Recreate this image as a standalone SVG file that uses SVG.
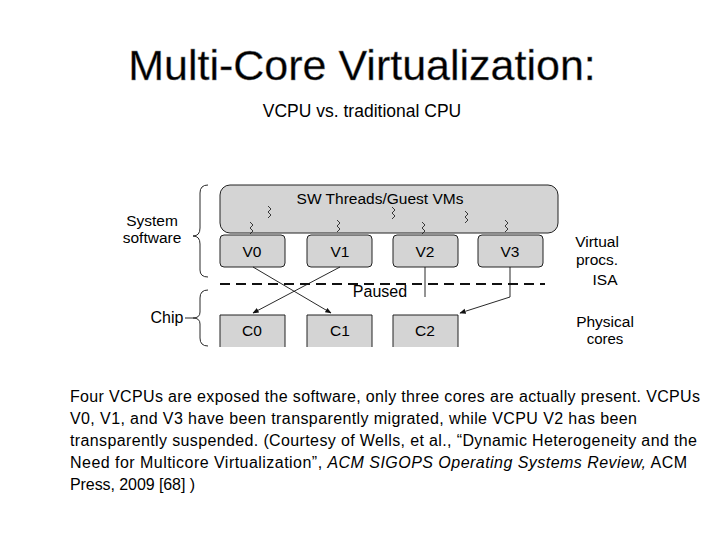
<svg xmlns="http://www.w3.org/2000/svg" width="720" height="540" viewBox="0 0 720 540">
<style>
.t{font-family:"Liberation Sans",Arial,sans-serif;fill:#000}
.box{fill:#d4d4d4;stroke:#222;stroke-width:1}
.ln{fill:none;stroke:#111;stroke-width:0.9}
.sq{fill:none;stroke:#111;stroke-width:0.8}
</style>
<defs><marker id="ah" viewBox="0 0 10 10" refX="9" refY="5" markerWidth="7" markerHeight="7" orient="auto"><path d="M0,1 L10,5 L0,9 z" fill="#111"/></marker>
<path id="zz" d="M0,0 l3,3 l-3,3 l3,3 l-3,3" class="sq"/></defs>
<rect width="720" height="540" fill="#fff"/>
<text x="362" y="80" text-anchor="middle" class="t" font-size="43" style="fill:#000;stroke:#888;stroke-width:0.4">Multi-Core Virtualization:</text>
<text x="362" y="117" text-anchor="middle" class="t" font-size="17.5">VCPU vs. traditional CPU</text>
<g id="sw"><rect class="box" x="220" y="185" width="338" height="48" rx="10"/><text x="380" y="204" text-anchor="middle" class="t" font-size="15.5">SW Threads/Guest VMs</text></g>
<g id="squiggles">
<use href="#zz" x="250" y="222"/><use href="#zz" x="268" y="206"/><use href="#zz" x="337" y="220"/><use href="#zz" x="392" y="207"/><use href="#zz" x="422" y="222"/><use href="#zz" x="465" y="211"/><use href="#zz" x="505" y="220"/>
</g>
<g id="v0"><rect class="box" x="220" y="235" width="65" height="32" rx="4"/><text x="252" y="257" text-anchor="middle" class="t" font-size="15.5">V0</text></g>
<g id="v1"><rect class="box" x="307" y="235" width="65" height="32" rx="4"/><text x="340" y="257" text-anchor="middle" class="t" font-size="15.5">V1</text></g>
<g id="v2"><rect class="box" x="393" y="235" width="65" height="32" rx="4"/><text x="425" y="257" text-anchor="middle" class="t" font-size="15.5">V2</text></g>
<g id="v3"><rect class="box" x="478" y="235" width="65" height="32" rx="4"/><text x="510" y="257" text-anchor="middle" class="t" font-size="15.5">V3</text></g>
<g id="c0"><path class="box" d="M220,347 V315 H285 V347"/><text x="252" y="336" text-anchor="middle" class="t" font-size="15.5">C0</text></g>
<g id="c1"><path class="box" d="M307,347 V315 H372 V347"/><text x="340" y="336" text-anchor="middle" class="t" font-size="15.5">C1</text></g>
<g id="c2"><path class="box" d="M393,347 V315 H458 V347"/><text x="425" y="336" text-anchor="middle" class="t" font-size="15.5">C2</text></g>
<g id="connectors">
<line class="ln" x1="253" y1="267" x2="331" y2="313" marker-end="url(#ah)"/>
<line class="ln" x1="340" y1="267" x2="253" y2="313" marker-end="url(#ah)"/>
<line class="ln" x1="425" y1="267" x2="425" y2="297"/>
<path class="ln" d="M510,267 V297 L460,313" marker-end="url(#ah)"/>
<line x1="220" y1="284" x2="545" y2="284" stroke="#111" stroke-width="1.8" stroke-dasharray="10,6"/>
</g>
<g id="braces">
<path class="ln" d="M208,185 Q200,185 200,193 V228 Q200,236 193,236 Q200,236 200,244 V270 Q200,277 208,277"/>
<path class="ln" d="M208,290 Q200,290 200,298 V312 Q200,318 193,318 Q200,318 200,324 V338 Q200,346 208,346"/>
<line class="ln" x1="185" y1="318" x2="193" y2="318"/>
</g>
<g id="labels">
<text x="152" y="226" text-anchor="middle" class="t" font-size="15.5">System</text>
<text x="152" y="243" text-anchor="middle" class="t" font-size="15.5">software</text>
<text x="167" y="323" text-anchor="middle" class="t" font-size="16">Chip</text>
<text x="597" y="247" text-anchor="middle" class="t" font-size="15.5">Virtual</text>
<text x="597" y="265" text-anchor="middle" class="t" font-size="15.5">procs.</text>
<text x="605" y="285" text-anchor="middle" class="t" font-size="15.5">ISA</text>
<text x="380" y="297" text-anchor="middle" class="t" font-size="16">Paused</text>
<text x="605" y="327" text-anchor="middle" class="t" font-size="15.5">Physical</text>
<text x="605" y="344" text-anchor="middle" class="t" font-size="15">cores</text>
</g>
<g id="caption" class="t" font-size="16">
<text x="70" y="402" textLength="630">Four VCPUs are exposed the software, only three cores are actually present. VCPUs</text>
<text x="70" y="424" textLength="567">V0, V1, and V3 have been transparently migrated, while VCPU V2 has been</text>
<text x="70" y="446" textLength="627">transparently suspended. (Courtesy of Wells, et al., “Dynamic Heterogeneity and the</text>
<text x="70" y="468" textLength="617">Need for Multicore Virtualization”, <tspan font-style="italic">ACM SIGOPS Operating Systems Review,</tspan> ACM</text>
<text x="70" y="490" textLength="125">Press, 2009 [68] )</text>
</g>
</svg>
